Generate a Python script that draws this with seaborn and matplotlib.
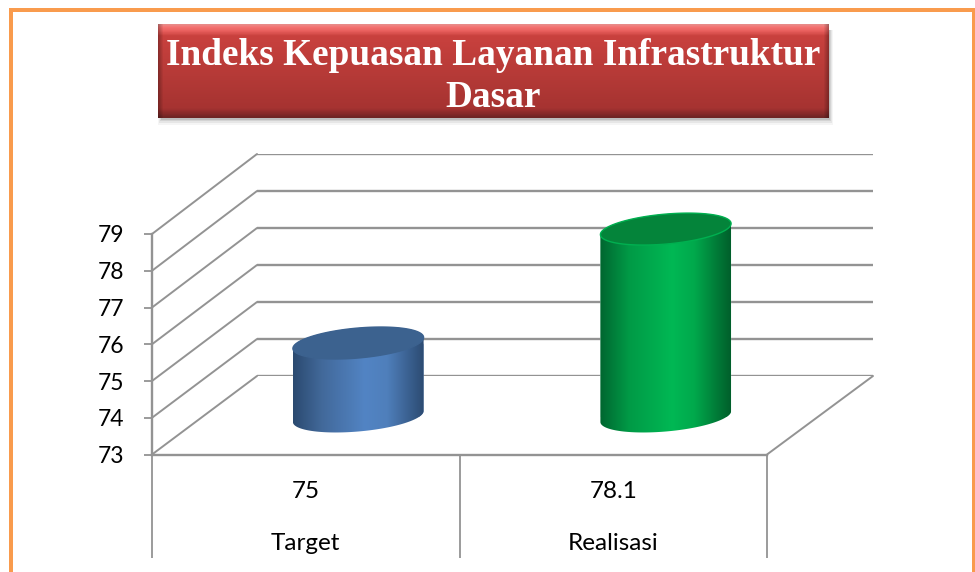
import numpy as np
import pandas as pd
import matplotlib
matplotlib.use("Agg")
import matplotlib.pyplot as plt
from matplotlib.colors import LinearSegmentedColormap
from matplotlib.patches import ConnectionPatch, Polygon, Rectangle
import seaborn as sns

title = "Indeks Kepuasan Layanan Infrastruktur\nDasar"
categories = ["Target", "Realisasi"]
values = [75, 78.1]
y_ticks = [73, 74, 75, 76, 77, 78, 79]

W, H = 975, 572
GRID = "#939393"
TEXT_FONT = ["Lato", "DejaVu Sans"]

# left, mid, right colours of each cylinder, then its lid and rim
cyl_colors = [
    (["#2b4a70", "#42699a", "#5284c4", "#4f7fbb", "#2c4b72"], "#3c628f", "#3c628f"),
    (["#006630", "#009a46", "#00b854", "#00a94c", "#005f2b"], "#04843a", "#00b050"),
]

sns.set_theme(style="white")
plt.rcParams["font.family"] = TEXT_FONT

fig = plt.figure(figsize=(W / 100, H / 100), dpi=100, facecolor="white")


def px_axes(x0, x1, top, bottom, zorder):
    ax = fig.add_axes([x0 / W, 1 - bottom / H, (x1 - x0) / W, (bottom - top) / H], zorder=zorder)
    ax.patch.set_alpha(0)
    return ax


def px_rect(x0, x1, top, bottom, **kw):
    fig.add_artist(Rectangle((x0 / W, 1 - bottom / H), (x1 - x0) / W, (bottom - top) / H,
                             transform=fig.transFigure, lw=0, **kw))


# orange page border, open at the bottom
for box in [(9, 13, 8, H), (9, W, 8, 12), (972, W, 8, H)]:
    px_rect(*box, color="#f99b4d")

# back wall, floor/side wall and the plane the cylinders stand on
back = px_axes(257, 873, 154, 376, 1)
front = px_axes(152, 767, 234, 454.5, 2)
mid = px_axes(204.5, 819.5, 196, 416.5, 3)

for ax in (back, front, mid):
    ax.set_xlim(-0.5, 1.5)
    ax.set_ylim(y_ticks[0], y_ticks[-1])

sns.despine(ax=back, left=True, bottom=True)
back.set_xticks([])
back.set_yticks([])
back.hlines(y_ticks, -0.5, 1.5, color=GRID, lw=1.7)

for tick in y_ticks:
    fig.add_artist(ConnectionPatch((-0.5, tick), (-0.5, tick), "data", "data", axesA=front, axesB=back,
                                   color=GRID, lw=1.4, zorder=1.5))
fig.add_artist(ConnectionPatch((1.5, 73), (1.5, 73), "data", "data", axesA=front, axesB=back,
                               color=GRID, lw=1.4, zorder=1.5))

sns.despine(ax=front, right=True, top=True)
for side in ("left", "bottom"):
    front.spines[side].set_color(GRID)
    front.spines[side].set_linewidth(1.7)
front.set_yticks(y_ticks)
front.set_xticks([-0.5, 0.5, 1.5])
front.set_xticklabels([])
front.tick_params(axis="y", left=True, length=6, width=1.3, color=GRID, labelsize=16.5, labelcolor="black", pad=14)
front.tick_params(axis="x", bottom=True, length=74.5, width=1.3, color=GRID)
for lbl in front.get_yticklabels():
    lbl.set_verticalalignment("center_baseline")

for i, (cat, val) in enumerate(zip(categories, values)):
    front.annotate(f"{val:g}", (i, 0), xycoords=front.get_xaxis_transform(), xytext=(0, -37),
                   textcoords="offset pixels", ha="center", va="center", fontsize=17.5, color="black")
    front.annotate(cat, (i, 0), xycoords=front.get_xaxis_transform(), xytext=(0, -89),
                   textcoords="offset pixels", ha="center", va="center", fontsize=17.5, color="black")

# cylinders
df = pd.DataFrame({"category": categories, "value": values})
sns.barplot(data=df, x="category", y="value", hue="category", palette=[c[0][2] for c in cyl_colors],
            width=0.425, legend=False, ax=mid)
mid.set_xlim(-0.5, 1.5)
mid.set_ylim(y_ticks[0], y_ticks[-1])
mid.set_xticks([])
mid.set_yticks([])
mid.set_xlabel("")
mid.set_ylabel("")
sns.despine(ax=mid, left=True, bottom=True)

lid_b = 15 / 36.75
lid_tilt = 5.5 / 36.75
theta = np.linspace(0, 2 * np.pi, 181)

for bar, (stops, lid, rim) in zip(mid.patches, cyl_colors):
    left = bar.get_x()
    right = left + bar.get_width()
    cx = (left + right) / 2
    a = bar.get_width() / 2
    top = bar.get_height()
    base = y_ticks[0]

    # lid and foot follow one tilted ellipse
    ex = cx + a * np.cos(theta)
    ey = lid_b * np.sin(theta) + lid_tilt * np.cos(theta)
    upper = theta <= np.pi
    lower = theta >= np.pi
    body = np.vstack([
        np.column_stack([ex[upper], top + ey[upper]]),
        np.column_stack([ex[lower], base + ey[lower]]),
    ])
    clip = Polygon(body, closed=True, transform=mid.transData, fc="none", ec="none")
    mid.add_patch(clip)
    bar.set_clip_path(clip)

    cmap = LinearSegmentedColormap.from_list("cyl", list(zip([0, 0.22, 0.55, 0.72, 1], stops)))
    im = mid.imshow(np.linspace(0, 1, 256)[None, :], extent=(left, right, base - 1, top + 1), cmap=cmap,
                    aspect="auto", zorder=3, interpolation="bilinear")
    im.set_clip_path(clip)
    # the foot hangs below the axes box, so clip to the figure instead
    im.set_clip_box(fig.bbox)
    mid.fill(ex, top + ey, fc=lid, ec=rim, lw=1, zorder=4, clip_on=False)

mid.set_xlim(-0.5, 1.5)
mid.set_ylim(y_ticks[0], y_ticks[-1])

# title box with soft shadow and bevelled edges
for grow, alpha in zip([6, 4, 2, 1], [0.04, 0.06, 0.08, 0.10]):
    px_rect(158 + 3 - grow // 2, 829 + 1 + grow // 2, 30, 118 + 1 + grow, color="black", alpha=alpha)

title_ax = px_axes(158, 829, 24, 118, 5)
title_ax.axis("off")
ramp = LinearSegmentedColormap.from_list("title", list(zip(
    [0, 0.025, 0.07, 0.12, 0.55, 0.9, 0.95, 1],
    ["#e88a88", "#f57473", "#e85e5c", "#c9413e", "#b53a37", "#a63331", "#8b2b2a", "#6e2524"])))
rows = ramp(np.linspace(0, 1, 94))[:, :3]
edge = np.clip(np.minimum(np.arange(671), np.arange(671)[::-1]) / 5, 0, 1)
edge_left = 0.72 + 0.28 * edge
title_ax.imshow(rows[:, None, :] * edge_left[None, :, None], aspect="auto", interpolation="bilinear")
title_ax.text(0.5, 0.44, title, transform=title_ax.transAxes, ha="center", va="center", color="white",
              family=["Liberation Serif"], fontweight="bold", fontsize=26.8, linespacing=1.27)

fig.savefig("out.png", dpi=100)
